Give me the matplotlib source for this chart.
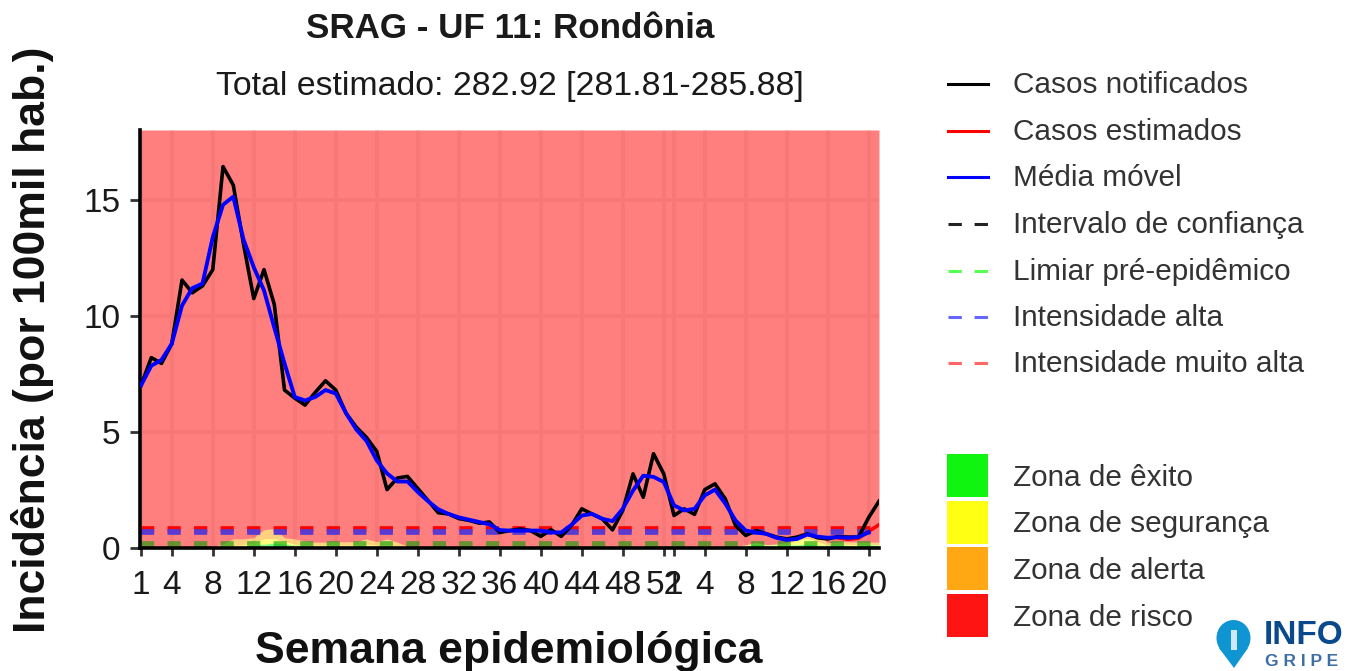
import matplotlib
matplotlib.use('Agg')
import matplotlib.pyplot as plt
from matplotlib.patches import Rectangle, Polygon, Ellipse
import numpy as np

plt.rcParams['font.family'] = ['Liberation Sans', 'DejaVu Sans']
plt.rcParams['lines.scale_dashes'] = False

# weekly series, two seasons
notified = [7.0, 8.2, 7.95, 8.8, 11.55, 11.0, 11.3, 12.0, 16.45, 15.65, 13.1, 10.75, 12.0, 10.5,
            6.8, 6.45, 6.15, 6.7, 7.2, 6.8, 5.8, 5.2, 4.75, 4.15, 2.5, 3.0, 3.07, 2.55, 2.03, 1.5,
            1.45, 1.25, 1.17, 1.05, 1.1, 0.65, 0.73, 0.8, 0.73, 0.48, 0.77, 0.48, 0.95, 1.67, 1.45,
            1.24, 0.76, 1.6, 3.18, 2.17, 4.05, 3.18, 1.38, 1.67, 1.43, 2.5, 2.75, 2.1, 0.95, 0.52,
            0.73, 0.59, 0.45, 0.37, 0.45, 0.59, 0.42, 0.37, 0.47, 0.45, 0.45, 1.3, 2.0]
moving_avg = [7.0, 7.85, 8.1, 8.8, 10.45, 11.2, 11.4, 13.4, 14.8, 15.15, 13.3, 12.1, 11.1, 9.5,
              7.95, 6.5, 6.35, 6.5, 6.8, 6.65, 5.8, 5.1, 4.6, 3.76, 3.2, 2.85, 2.85, 2.4, 2.0, 1.65,
              1.45, 1.3, 1.2, 1.1, 1.0, 0.75, 0.73, 0.73, 0.73, 0.73, 0.65, 0.65, 0.98, 1.38, 1.45,
              1.24, 1.14, 1.67, 2.46, 3.1, 3.05, 2.83, 1.82, 1.6, 1.67, 2.25, 2.5, 1.9, 1.17, 0.73,
              0.65, 0.59, 0.42, 0.33, 0.37, 0.56, 0.47, 0.42, 0.45, 0.42, 0.45, 0.66]
est_weeks = [68, 69, 70, 71, 72]
estimated = [0.42, 0.35, 0.4, 0.7, 0.98]

# zone tops (cumulative)
zone_green = [0.02] * 8 + [0.03, 0.05, 0.07, 0.1, 0.15, 0.2, 0.15, 0.1, 0.1, 0.07, 0.07, 0.07, 0.07, 0.07,
              0.07, 0.07, 0.07, 0.05] + [0.02] * 33 + [0.07, 0.15, 0.1, 0.1, 0.1, 0.12, 0.15, 0.1, 0.1,
              0.12, 0.1, 0.08, 0.12, 0.1]
zone_yellow = [0.02] * 8 + [0.05, 0.08, 0.12, 0.2, 0.38, 0.38, 0.25, 0.15, 0.1, 0.1, 0.1, 0.1, 0.1, 0.1,
               0.12, 0.1, 0.12, 0.07] + [0.03] * 33 + [0.1, 0.18, 0.12, 0.13, 0.15, 0.3, 0.4, 0.25, 0.1,
               0.14, 0.14, 0.12, 0.14, 0.12]
zone_orange = [0.03] * 8 + [0.15, 0.37, 0.37, 0.42, 0.77, 0.81, 0.42, 0.37, 0.27, 0.23, 0.23, 0.25, 0.25,
               0.25, 0.37, 0.25, 0.37, 0.23] + [0.05] * 33 + [0.12, 0.23, 0.12, 0.15, 0.23, 0.45, 0.8, 0.59,
               0.2, 0.25, 0.25, 0.23, 0.23, 0.23]

pre_epidemic = 0.14
high = 0.66
very_high = 0.81
y_top = 18.03

tick_idx = [0, 3, 7, 11, 15, 19, 23, 27, 31, 35, 39, 43, 47, 51, 52, 55, 59, 63, 67, 71]
tick_labels = ['1', '4', '8', '12', '16', '20', '24', '28', '32', '36', '40', '44', '48', '52',
               '1', '4', '8', '12', '16', '20']
y_ticks = [0, 5, 10, 15]

line_labels = ['Casos notificados', 'Casos estimados', 'Média móvel', 'Intervalo de confiança',
               'Limiar pré-epidêmico', 'Intensidade alta', 'Intensidade muito alta']
zone_labels = ['Zona de êxito', 'Zona de segurança', 'Zona de alerta', 'Zona de risco']

W, H = 1356, 671
fig = plt.figure(figsize=(W / 100, H / 100), dpi=100)
ax = fig.add_axes([140 / W, 1 - 547.5 / H, 739 / W, 417.5 / H])

x = np.arange(len(notified))
xm = np.arange(len(moving_avg))

ax.set_axisbelow(True)
ax.grid(True, color='#f2f2f2', lw=2.8)
ax.fill_between(x, 0, zone_green, color='#00ff00', alpha=0.5, lw=0, zorder=1)
ax.fill_between(x, zone_green, zone_yellow, color='#ffff00', alpha=0.5, lw=0, zorder=1)
ax.fill_between(x, zone_yellow, zone_orange, color='#ffa500', alpha=0.5, lw=0, zorder=1)
ax.fill_between(x, zone_orange, y_top, color='#ff0000', alpha=0.5, lw=0, zorder=1)

dash = (0, (9.5, 9.6))
ax.plot([x[0], x[-1]], [pre_epidemic] * 2, color='#00a000', alpha=0.6, lw=4.1, ls=dash, dash_capstyle='butt', zorder=2)
ax.plot([x[0], x[-1]], [very_high] * 2, color='#ff0000', lw=4.1, ls=dash, dash_capstyle='butt', zorder=2)
ax.plot([x[0], x[-1]], [high] * 2, color='#5a3ad0', lw=4.1, ls=dash, dash_capstyle='butt', zorder=2)

ax.plot(est_weeks, estimated, color='#ff0000', lw=2.6, zorder=3)
ax.plot(x, notified, color='black', lw=2.6, zorder=4)
ax.plot(xm, moving_avg, color='#0000ff', lw=2.8, zorder=5)

ax.set_xlim(-0.1, 72)
ax.set_ylim(0, y_top)
ax.set_xticks(tick_idx)
ax.set_xticklabels(tick_labels)
ax.set_yticks(y_ticks)
ax.tick_params(axis='x', labelsize=24, length=6, width=2, color='#333333', pad=10, labelcolor='#1a1a1a')
ax.tick_params(axis='y', labelsize=24, length=7, width=2, color='#333333', pad=7, labelcolor='#1a1a1a')
for s in ['top', 'right']:
    ax.spines[s].set_visible(False)
for s in ['left', 'bottom']:
    ax.spines[s].set_linewidth(2.6)
    ax.spines[s].set_color('black')

# everything outside the panel goes on a pixel-coordinate overlay
ov = fig.add_axes([0, 0, 1, 1], facecolor='none')
ov.set_xlim(0, W)
ov.set_ylim(H, 0)
ov.axis('off')

ov.text(510, 28, 'SRAG - UF 11: Rondônia', fontsize=25.2, fontweight='bold', ha='center', va='center', color='#1a1a1a')
ov.text(510, 87, 'Total estimado: 282.92 [281.81-285.88]', fontsize=24.4, ha='center', va='center', color='#1a1a1a')
ov.text(509, 651, 'Semana epidemiológica', fontsize=32, fontweight='bold', ha='center', va='center', color='#111111')
ov.text(33, 340, 'Incidência (por 100mil hab.)', fontsize=32, fontweight='bold', rotation=90, ha='center', va='center', color='#111111')

line_y = [85, 132, 178, 225, 272, 318, 364]
line_col = ['black', '#ff0000', '#0000ff', '#222222', '#55ff55', '#6666ff', '#ff6666']
line_dash = [False, False, False, True, True, True, True]
for lab, yy, c, d in zip(line_labels, line_y, line_col, line_dash):
    ls = (0, (9.6, 9.2)) if d else '-'
    ov.plot([948, 988], [yy - 1, yy - 1], color=c, lw=2.2, ls=ls, dash_capstyle='butt')
    ov.text(1013, yy, lab, fontsize=21.4, va='center', ha='left', color='#333333')

zone_y = [454, 500.5, 547, 594]
zone_col = ['#10f510', '#ffff14', '#ffa814', '#ff1414']
for lab, yy, c in zip(zone_labels, zone_y, zone_col):
    ov.add_patch(Rectangle((947, yy), 41, 43, color=c, lw=0))
    ov.text(1013, yy + 24, lab, fontsize=21.4, va='center', ha='left', color='#333333')

# logo
ov.add_patch(Ellipse((1233.5, 638), 34, 36, color='#0f96d2', lw=0))
ov.add_patch(Polygon([[1219, 648], [1248, 648], [1234, 668]], color='#0f96d2', lw=0))
ov.add_patch(Rectangle((1230.5, 630), 6, 20, color='#cfe8f5', lw=0))
ov.text(1304, 635, 'INFO', fontsize=24, fontweight='bold', ha='center', va='center', color='#0a4a8c')
ov.text(1302, 661, 'G R I P E', fontsize=12.5, fontweight='bold', ha='center', va='center', color='#3d6fa5')

fig.savefig('out.png', dpi=100)
